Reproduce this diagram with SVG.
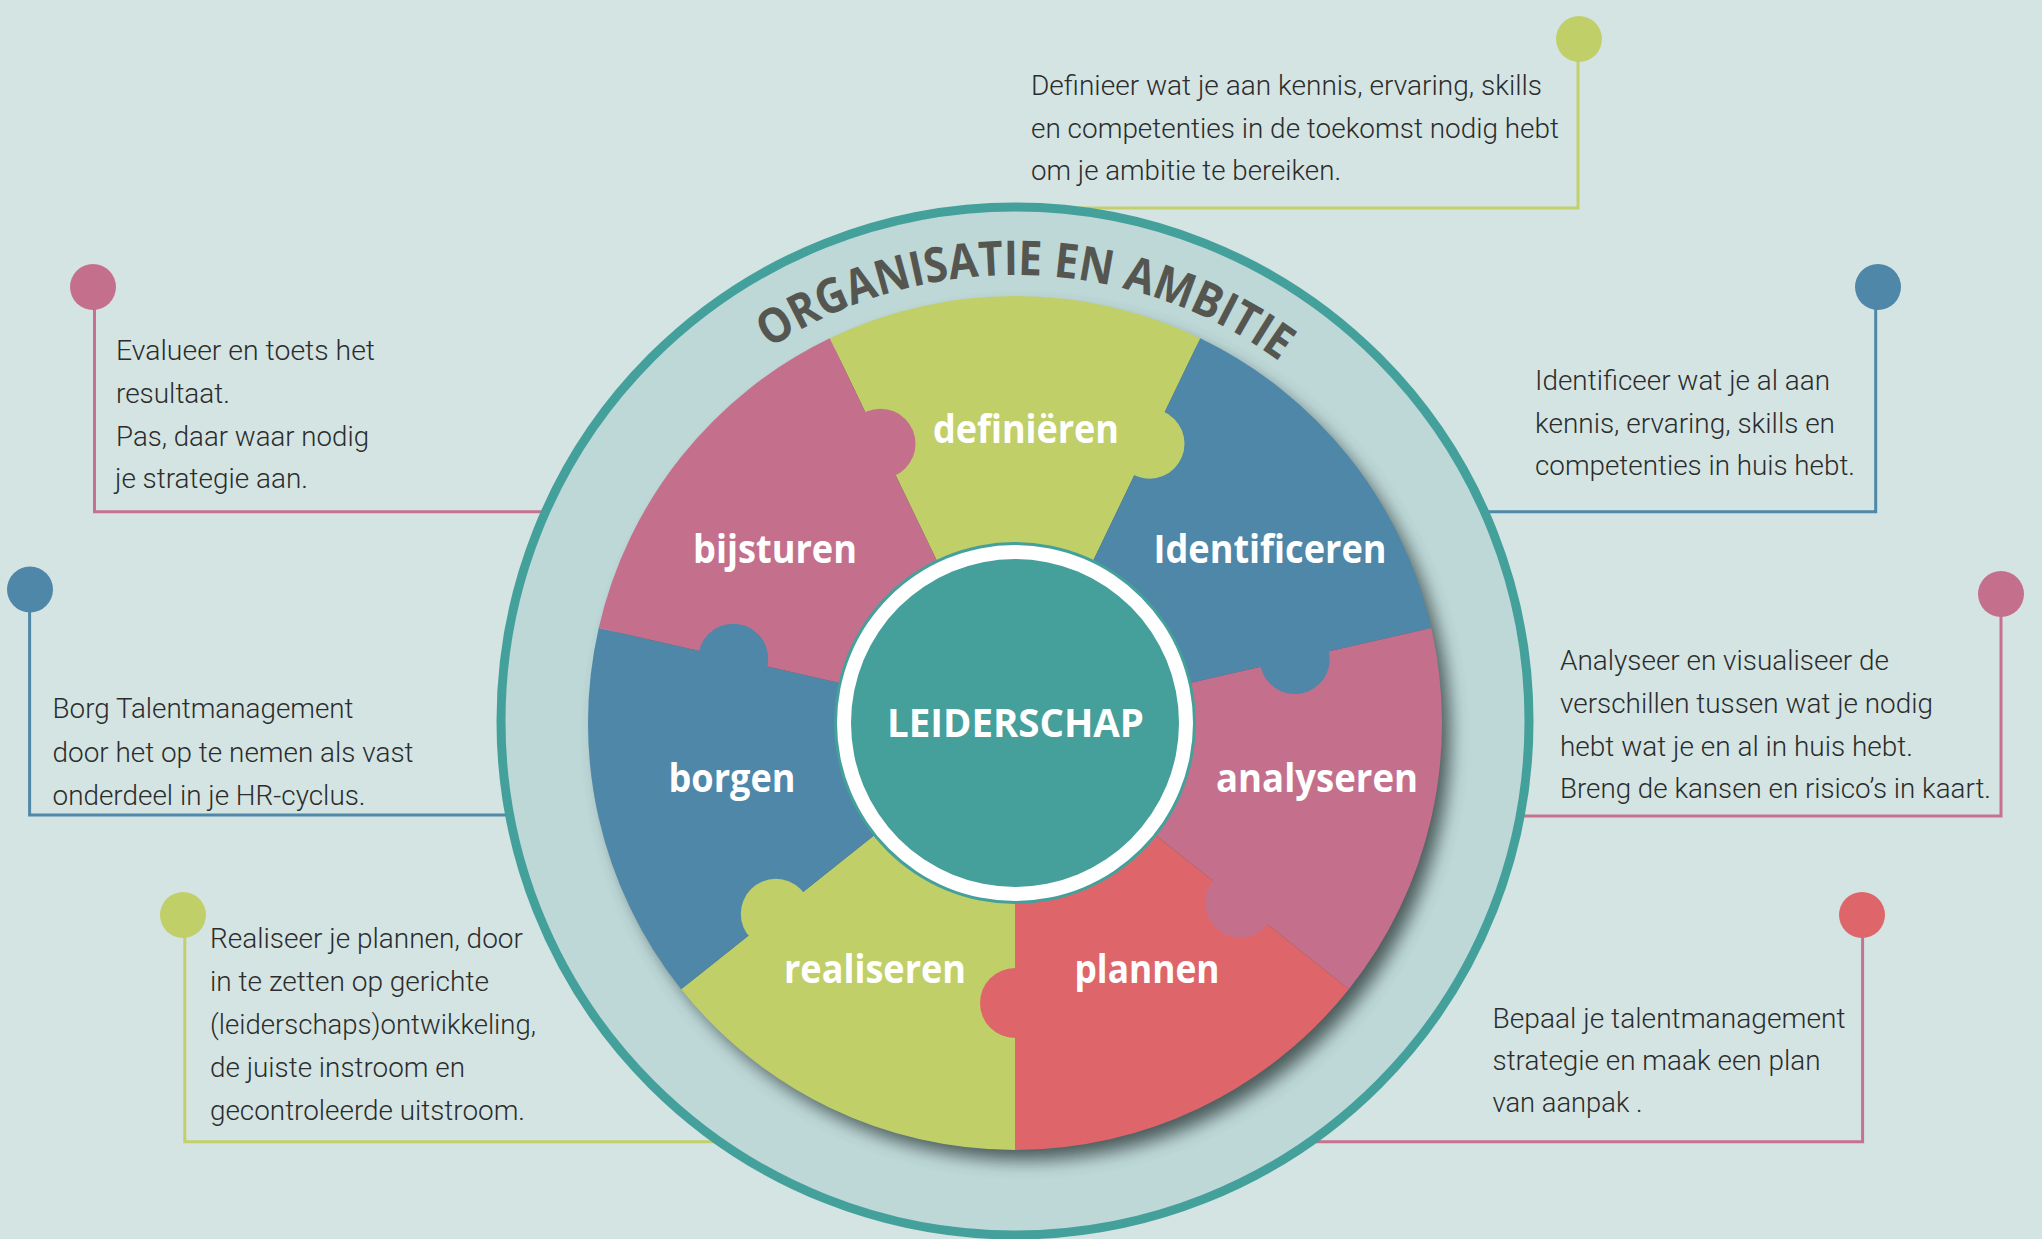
<svg xmlns="http://www.w3.org/2000/svg" width="2042" height="1239" viewBox="0 0 2042 1239">
<defs>
<style>
.body{font-family:Roboto,"Open Sans","Liberation Sans",sans-serif;font-weight:300;font-size:28px;fill:#2c2c2c}
.lbl{font-family:"Open Sans","Liberation Sans",sans-serif;font-weight:700;font-size:40px;fill:#ffffff;text-anchor:middle}
.title{font-family:"Open Sans","Liberation Sans",sans-serif;font-weight:700;font-size:48px;fill:#565651}
.ln{fill:none;stroke-width:3}
.g{fill:#c1cf69}.p{fill:#c4708c}.b{fill:#4e87a8}.r{fill:#de666a}
.sg{stroke:#c3cf6a}.sp{stroke:#c6718e}.sb{stroke:#4f88a8}
</style>
<filter id="blur" x="-20%" y="-20%" width="140%" height="140%">
<feGaussianBlur stdDeviation="9"/>
</filter>
<path id="arc" d="M567,723 A448,448 0 0 1 1463,723"/>
</defs>
<rect x="0" y="0" width="2042" height="1239" fill="#d3e4e3"/>

<g id="connectors">
<path class="ln sg" d="M1578,60 V208 H1020"/>
<path class="ln sp" d="M94.5,308 V511.7 H600"/>
<path class="ln sb" d="M29.6,611 V815 H600"/>
<path class="ln sg" d="M184.8,936 V1141.7 H800"/>
<path class="ln sb" d="M1875.7,308 V511.7 H1450"/>
<path class="ln sp" d="M2001,615 V816 H1450"/>
<path class="ln sp" d="M1862.6,936 V1141.7 H1250"/>
<circle class="g" cx="1579" cy="39" r="23"/>
<circle class="p" cx="93" cy="287" r="23"/>
<circle class="b" cx="30" cy="589.5" r="23"/>
<circle class="g" cx="183" cy="915" r="23"/>
<circle class="b" cx="1878" cy="287" r="23"/>
<circle class="p" cx="2001" cy="594" r="23"/>
<circle class="r" cx="1862" cy="915" r="23"/>
</g>

<g id="ring">
<circle cx="1015" cy="721" r="514" fill="#bed8d8" stroke="#44a09b" stroke-width="9"/>
<text class="title"><textPath href="#arc" startOffset="715" text-anchor="middle" textLength="543" lengthAdjust="spacingAndGlyphs">ORGANISATIE EN AMBITIE</textPath></text>
</g>

<circle cx="1025" cy="735" r="425" fill="#3c4c4c" opacity="0.9" filter="url(#blur)"/>

<g id="wheel">
<g id="piece-definieren"><path class="g" d="M1015,723 L829.73,338.29 A427,427 0 0 1 1200.27,338.29 Z"/></g>
<g id="piece-identificeren"><path class="b" d="M1015,723 L1200.27,338.29 A427,427 0 0 1 1431.29,627.98 Z"/></g>
<g id="piece-analyseren"><path class="p" d="M1015,723 L1431.29,627.98 A427,427 0 0 1 1348.84,989.23 Z"/></g>
<g id="piece-plannen"><path class="r" d="M1015,723 L1348.84,989.23 A427,427 0 0 1 1015,1150 Z"/></g>
<g id="piece-realiseren"><path class="g" d="M1015,723 L1015,1150 A427,427 0 0 1 681.16,989.23 Z"/></g>
<g id="piece-borgen"><path class="b" d="M1015,723 L681.16,989.23 A427,427 0 0 1 598.71,627.98 Z"/></g>
<g id="piece-bijsturen"><path class="p" d="M1015,723 L598.71,627.98 A427,427 0 0 1 829.73,338.29 Z"/></g>
<g id="knobs">
<circle class="p" cx="880.5" cy="443.7" r="35"/>
<circle class="g" cx="1149.5" cy="443.7" r="35"/>
<circle class="b" cx="1294.8" cy="659.1" r="35"/>
<circle class="p" cx="1240.2" cy="902.6" r="35"/>
<circle class="r" cx="1015" cy="1003" r="35"/>
<circle class="g" cx="775.8" cy="913.8" r="35"/>
<circle class="b" cx="733.2" cy="658.7" r="35"/>
</g>
<g id="labels">
<text class="lbl" x="1026" y="443" textLength="186" lengthAdjust="spacingAndGlyphs">definiëren</text>
<text class="lbl" x="1270" y="563" textLength="233" lengthAdjust="spacingAndGlyphs">Identificeren</text>
<text class="lbl" x="1317" y="792" textLength="202" lengthAdjust="spacingAndGlyphs">analyseren</text>
<text class="lbl" x="1147" y="983" textLength="145" lengthAdjust="spacingAndGlyphs">plannen</text>
<text class="lbl" x="875" y="983" textLength="182" lengthAdjust="spacingAndGlyphs">realiseren</text>
<text class="lbl" x="732" y="792" textLength="127" lengthAdjust="spacingAndGlyphs">borgen</text>
<text class="lbl" x="775" y="563" textLength="164" lengthAdjust="spacingAndGlyphs">bijsturen</text>
</g>
</g>

<g id="node-leiderschap">
<circle cx="1015" cy="723" r="181" fill="#45a09b"/>
<circle cx="1015" cy="723" r="178" fill="#ffffff"/>
<circle cx="1015" cy="723" r="164" fill="#459f9a"/>
<text class="lbl" x="1015.5" y="737" textLength="257" lengthAdjust="spacingAndGlyphs">LEIDERSCHAP</text>
</g>

<g id="text-definieren">
<text class="body" x="1031" y="95" textLength="511" lengthAdjust="spacingAndGlyphs">Definieer wat je aan kennis, ervaring, skills</text>
<text class="body" x="1031" y="138" textLength="528" lengthAdjust="spacingAndGlyphs">en competenties in de toekomst nodig hebt</text>
<text class="body" x="1031" y="180" textLength="310" lengthAdjust="spacingAndGlyphs">om je ambitie te bereiken.</text>
</g>
<g id="text-bijsturen">
<text class="body" x="116" y="360" textLength="259" lengthAdjust="spacingAndGlyphs">Evalueer en toets het</text>
<text class="body" x="116" y="403" textLength="114" lengthAdjust="spacingAndGlyphs">resultaat.</text>
<text class="body" x="116" y="446" textLength="253" lengthAdjust="spacingAndGlyphs">Pas, daar waar nodig</text>
<text class="body" x="115" y="488" textLength="193" lengthAdjust="spacingAndGlyphs">je strategie aan.</text>
</g>
<g id="text-borgen">
<text class="body" x="52.5" y="718" textLength="301" lengthAdjust="spacingAndGlyphs">Borg Talentmanagement</text>
<text class="body" x="52.5" y="761.5" textLength="361" lengthAdjust="spacingAndGlyphs">door het op te nemen als vast</text>
<text class="body" x="52.5" y="805" textLength="313" lengthAdjust="spacingAndGlyphs">onderdeel in je HR-cyclus.</text>
</g>
<g id="text-realiseren">
<text class="body" x="210" y="948" textLength="313" lengthAdjust="spacingAndGlyphs">Realiseer je plannen, door</text>
<text class="body" x="210" y="991" textLength="279" lengthAdjust="spacingAndGlyphs">in te zetten op gerichte</text>
<text class="body" x="210" y="1034" textLength="326" lengthAdjust="spacingAndGlyphs">(leiderschaps)ontwikkeling,</text>
<text class="body" x="210" y="1077" textLength="255" lengthAdjust="spacingAndGlyphs">de juiste instroom en</text>
<text class="body" x="210" y="1120" textLength="315" lengthAdjust="spacingAndGlyphs">gecontroleerde uitstroom.</text>
</g>
<g id="text-identificeren">
<text class="body" x="1535" y="390" textLength="295" lengthAdjust="spacingAndGlyphs">Identificeer wat je al aan</text>
<text class="body" x="1535" y="432.5" textLength="300" lengthAdjust="spacingAndGlyphs">kennis, ervaring, skills en</text>
<text class="body" x="1535" y="475" textLength="320" lengthAdjust="spacingAndGlyphs">competenties in huis hebt.</text>
</g>
<g id="text-analyseren">
<text class="body" x="1560" y="670" textLength="329" lengthAdjust="spacingAndGlyphs">Analyseer en visualiseer de</text>
<text class="body" x="1560" y="713" textLength="373" lengthAdjust="spacingAndGlyphs">verschillen tussen wat je nodig</text>
<text class="body" x="1560" y="755.5" textLength="353" lengthAdjust="spacingAndGlyphs">hebt wat je en al in huis hebt.</text>
<text class="body" x="1560" y="798" textLength="431" lengthAdjust="spacingAndGlyphs">Breng de kansen en risico’s in kaart.</text>
</g>
<g id="text-plannen">
<text class="body" x="1492.5" y="1028" textLength="353" lengthAdjust="spacingAndGlyphs">Bepaal je talentmanagement</text>
<text class="body" x="1492.5" y="1070" textLength="328" lengthAdjust="spacingAndGlyphs">strategie en maak een plan</text>
<text class="body" x="1492.5" y="1112" textLength="150" lengthAdjust="spacingAndGlyphs">van aanpak .</text>
</g>
</svg>
